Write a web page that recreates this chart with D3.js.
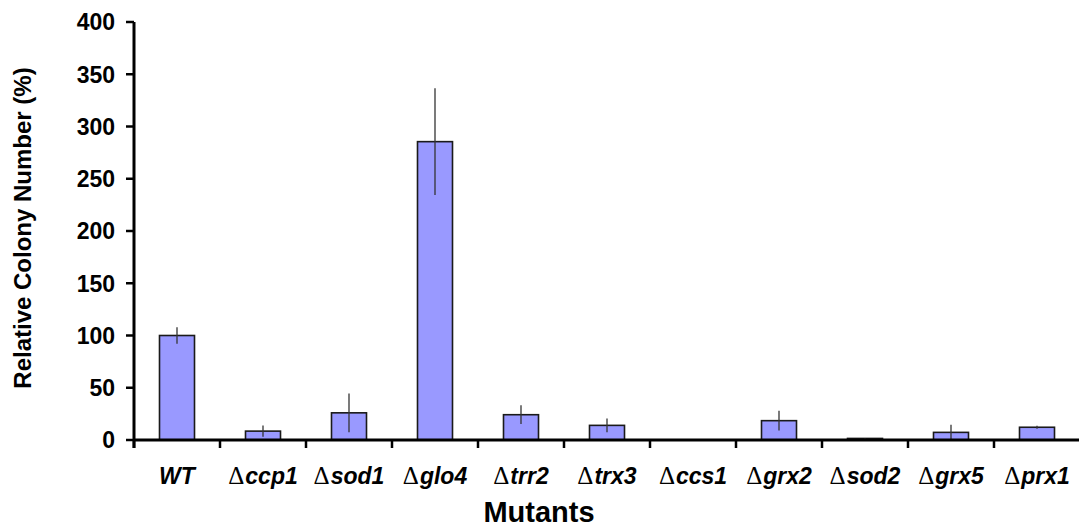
<!DOCTYPE html>
<html><head><meta charset="utf-8">
<script src="https://cdn.jsdelivr.net/npm/d3@7"></script>
<style>body{margin:0;background:#fff}svg{display:block}</style>
</head><body>
<svg id="c" width="1079" height="526"></svg>
<script>
const categories = ["WT","ccp1","sod1","glo4","trr2","trx3","ccs1","grx2","sod2","grx5","prx1"];
const deleted = [false,true,true,true,true,true,true,true,true,true,true];
const values = [100, 8.5, 26, 285.5, 24.2, 14, 0, 18.5, 1.5, 7.3, 12.2];
const errors = [8, 5.3, 18.6, 51, 9, 6.5, 0, 9.5, 0.5, 7.3, 1.5];
const yTicks = [0,50,100,150,200,250,300,350,400];

const svg = d3.select("#c");
const font = "'Liberation Sans', Arial, sans-serif";
const x = d3.scaleBand().domain(categories).range([134, 1080]).paddingInner(0.593).paddingOuter(0.2965);
const y = d3.scaleLinear().domain([0,400]).range([440, 22]);
const x0 = x.range()[0], step = x.step();

// bars
svg.selectAll("rect.bar").data(categories).join("rect")
  .attr("x", d => x(d)).attr("width", x.bandwidth())
  .attr("y", (d,i) => y(values[i])).attr("height", (d,i) => y(0) - y(values[i]))
  .attr("fill", "#9999ff").attr("stroke", "#1a1a1a").attr("stroke-width", 1.6)
  .style("display", (d,i) => values[i] > 0 ? null : "none");

// error bars
svg.selectAll("line.err").data(categories).join("line")
  .attr("x1", d => x(d) + x.bandwidth()/2).attr("x2", d => x(d) + x.bandwidth()/2)
  .attr("y1", (d,i) => y(values[i] + errors[i])).attr("y2", (d,i) => y(Math.max(0, values[i] - errors[i])))
  .attr("stroke", "#333").attr("stroke-width", 1.3)
  .style("display", (d,i) => errors[i] > 0 ? null : "none");

// y axis
const g = svg.append("g");
g.append("line").attr("x1", x0).attr("x2", x0).attr("y1", y(400)).attr("y2", y(0) + 8)
  .attr("stroke", "#000").attr("stroke-width", 3);
g.selectAll("line.yt").data(yTicks).join("line")
  .attr("x1", x0 - 8).attr("x2", x0).attr("y1", d => y(d)).attr("y2", d => y(d))
  .attr("stroke", "#000").attr("stroke-width", 2.5);
g.selectAll("text.yl").data(yTicks).join("text")
  .attr("x", 115).attr("y", d => y(d)).attr("dy", "0.36em")
  .attr("text-anchor", "end").attr("font-family", font).attr("font-weight", "bold")
  .attr("font-size", 23).text(d => d);

// x axis
g.append("line").attr("x1", x0).attr("x2", 1079).attr("y1", y(0)).attr("y2", y(0))
  .attr("stroke", "#000").attr("stroke-width", 3);
g.selectAll("line.xt").data(d3.range(categories.length)).join("line")
  .attr("x1", i => x0 + i*step).attr("x2", i => x0 + i*step)
  .attr("y1", y(0)).attr("y2", y(0) + 8)
  .attr("stroke", "#000").attr("stroke-width", 2.5);

const lbl = g.selectAll("text.xl").data(categories).join("text")
  .attr("x", d => x(d) + x.bandwidth()/2).attr("y", 484)
  .attr("text-anchor", "middle").attr("font-family", font).attr("font-weight", "bold")
  .attr("font-style", "italic").attr("font-size", 23);
lbl.each(function(d,i){
  const t = d3.select(this);
  if (deleted[i]) t.append("tspan").attr("font-family", "'Liberation Serif', serif").attr("font-weight", "normal").attr("font-style", "normal").attr("font-size", 25).text("Δ");
  t.append("tspan").attr("dx", deleted[i] ? 1 : 0).text(d);
});

// titles
svg.append("text").attr("x", 539).attr("y", 522).attr("text-anchor", "middle")
  .attr("font-family", font).attr("font-weight", "bold").attr("font-size", 29).text("Mutants");
svg.append("text").attr("transform", "translate(31,228) rotate(-90)").attr("text-anchor", "middle")
  .attr("font-family", font).attr("font-weight", "bold").attr("font-size", 24).text("Relative Colony Number (%)");
</script>
</body></html>
